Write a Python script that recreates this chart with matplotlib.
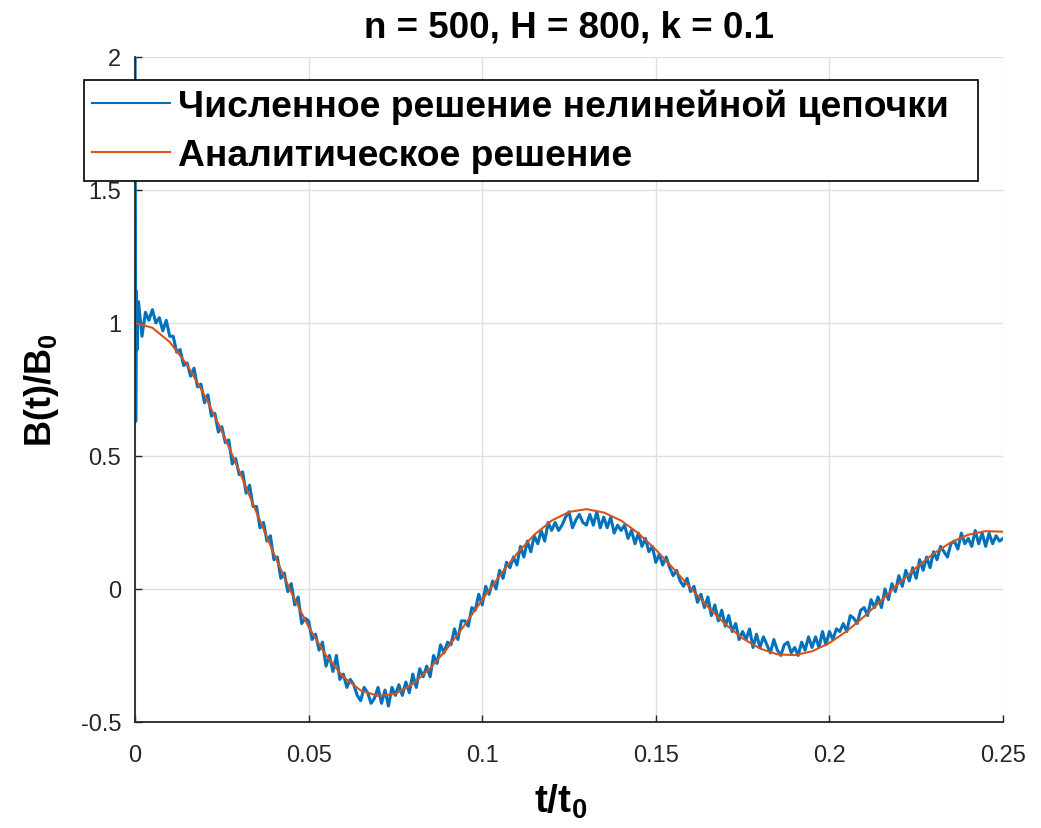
import numpy as np
import matplotlib
matplotlib.use("Agg")
import matplotlib.pyplot as plt

plt.rcParams['font.family'] = ['Liberation Sans', 'DejaVu Sans']
plt.rcParams['mathtext.fontset'] = 'custom'
plt.rcParams['mathtext.rm'] = 'Liberation Sans:bold'
plt.rcParams['mathtext.it'] = 'Liberation Sans:bold'
plt.rcParams['mathtext.bf'] = 'Liberation Sans:bold'

# analytic solution, read every 0.005
t_an = np.linspace(0, 0.25, 51)
b_an = [1.0000, 0.9819, 0.9284, 0.8426, 0.7290, 0.5937, 0.4440, 0.2876, 0.1326, -0.0131,
        -0.1424, -0.2499, -0.3307, -0.3815, -0.4021, -0.3938, -0.3575, -0.2985, -0.2223, -0.1344,
        -0.0412, 0.0496, 0.1329, 0.2038, 0.2569, 0.2894, 0.3001, 0.2875, 0.2571, 0.2093,
        0.1477, 0.0775, 0.0038, -0.0673, -0.1323, -0.1856, -0.2240, -0.2457, -0.2489, -0.2343,
        -0.2033, -0.1585, -0.1037, -0.0423, 0.0205, 0.0804, 0.1329, 0.1753, 0.2040, 0.2175,
        0.2151]

# numerical solution (noisy), start burst then every 0.001
t_start = [0.0, 0.0002, 0.0004, 0.0006, 0.0008]
b_start = [2.2, 0.63, 1.12, 0.90, 1.06]
b_num = [
    1.08, 0.95, 1.04, 1.01, 1.05, 1.00, 1.02, 0.97, 1.01, 0.95,
    0.95, 0.89, 0.90, 0.84, 0.85, 0.80, 0.83, 0.76, 0.77, 0.70,
    0.73, 0.65, 0.66, 0.59, 0.61, 0.55, 0.56, 0.47, 0.49, 0.43,
    0.44, 0.36, 0.39, 0.31, 0.31, 0.23, 0.25, 0.18, 0.20, 0.11,
    0.12, 0.04, 0.06, -0.01, 0.02, -0.06, -0.03, -0.13, -0.11, -0.12,
    -0.19, -0.17, -0.23, -0.20, -0.29, -0.25, -0.31, -0.25, -0.34, -0.32,
    -0.37, -0.34, -0.36, -0.40, -0.42, -0.37, -0.39, -0.43, -0.41, -0.37,
    -0.43, -0.38, -0.44, -0.37, -0.40, -0.36, -0.40, -0.35, -0.39, -0.32,
    -0.37, -0.30, -0.33, -0.29, -0.33, -0.25, -0.28, -0.21, -0.24, -0.20,
    -0.21, -0.15, -0.19, -0.12, -0.12, -0.14, -0.07, -0.08, -0.02, -0.06,
    0.01, -0.02, 0.03, 0.00, 0.07, 0.04, 0.10, 0.08, 0.12, 0.09,
    0.16, 0.12, 0.18, 0.14, 0.20, 0.17, 0.22, 0.18, 0.25, 0.22,
    0.25, 0.22, 0.24, 0.27, 0.29, 0.23, 0.26, 0.28, 0.25, 0.24,
    0.28, 0.24, 0.29, 0.23, 0.27, 0.23, 0.27, 0.21, 0.24, 0.22,
    0.24, 0.19, 0.22, 0.17, 0.21, 0.16, 0.19, 0.14, 0.16, 0.10,
    0.13, 0.09, 0.12, 0.08, 0.05, 0.07, 0.03, 0.01, 0.04, -0.01,
    0.01, -0.05, -0.02, -0.07, -0.03, -0.10, -0.06, -0.12, -0.08, -0.14,
    -0.10, -0.16, -0.13, -0.19, -0.16, -0.19, -0.15, -0.22, -0.17, -0.22,
    -0.18, -0.21, -0.24, -0.19, -0.23, -0.25, -0.21, -0.20, -0.24, -0.22,
    -0.25, -0.20, -0.23, -0.18, -0.22, -0.18, -0.22, -0.16, -0.21, -0.16,
    -0.19, -0.15, -0.16, -0.13, -0.16, -0.10, -0.11, -0.13, -0.08, -0.07,
    -0.10, -0.04, -0.07, -0.03, -0.07, 0.00, -0.04, 0.02, -0.01, 0.05,
    0.01, 0.07, 0.03, 0.08, 0.04, 0.11, 0.07, 0.12, 0.08, 0.14,
    0.11, 0.16, 0.14, 0.12, 0.17, 0.18, 0.15, 0.21, 0.17, 0.19,
    0.16, 0.22, 0.17, 0.21, 0.16, 0.21, 0.17, 0.20, 0.18, 0.19,
]
t_num = np.concatenate([t_start, np.arange(1, 251) / 1000])
b_all = b_start + b_num

x_ticks = [0, 0.05, 0.1, 0.15, 0.2, 0.25]
x_ticklabels = ['0', '0.05', '0.1', '0.15', '0.2', '0.25']
y_ticks = [-0.5, 0, 0.5, 1, 1.5, 2]
y_ticklabels = ['-0.5', '0', '0.5', '1', '1.5', '2']

fig = plt.figure(figsize=(10.41, 8.29), dpi=100)
ax = fig.add_axes([0.1297, 0.1279, 0.8338, 0.8022])

l1, = ax.plot(t_num, b_all, color='#0072BD', lw=2.2)
l2, = ax.plot(t_an, b_an, color='#D95319', lw=1.5)

ax.set_xlim(0, 0.25)
ax.set_ylim(-0.5, 2)
ax.set_xticks(x_ticks)
ax.set_xticklabels(x_ticklabels)
ax.set_yticks(y_ticks)
ax.set_yticklabels(y_ticklabels)
ax.tick_params(direction='in', length=5, width=1, colors='#262626', labelsize=17)
ax.tick_params(axis='x', pad=16)
ax.tick_params(axis='y', pad=10)
ax.grid(True, color='#dfdfdf', lw=1)
ax.set_axisbelow(True)
for s in ['top', 'right']:
    ax.spines[s].set_visible(False)
for s in ['left', 'bottom']:
    ax.spines[s].set_color('#262626')
    ax.spines[s].set_linewidth(1.3)

ax.set_title('n = 500, H = 800, k = 0.1', fontsize=26.5, fontweight='bold', pad=15)
ax.set_xlabel(r'$\mathrm{t/t_0}$', fontsize=28)
ax.set_ylabel(r'$\mathrm{B(t)/B_0}$', fontsize=26)
ax.xaxis.set_label_coords(0.49, -0.09)
ax.yaxis.set_label_coords(-0.085, 0.5)

leg = fig.legend([l1, l2], ['Численное решение нелинейной цепочки', 'Аналитическое решение'],
                 loc='upper left', mode='expand',
                 bbox_to_anchor=(84 / 1041, 1 - 81 / 829 - 0.01, (978 - 84) / 1041, 0.01),
                 borderaxespad=0, fancybox=False, framealpha=1, edgecolor='black',
                 prop={'size': 26.8, 'weight': 'bold'}, handlelength=2.1,
                 handletextpad=0.2, borderpad=0.22, labelspacing=0.38)
leg.get_frame().set_linewidth(1.2)
for h in leg.get_lines():
    h.set_linewidth(1.5)

fig.savefig('out.png', dpi=100)
